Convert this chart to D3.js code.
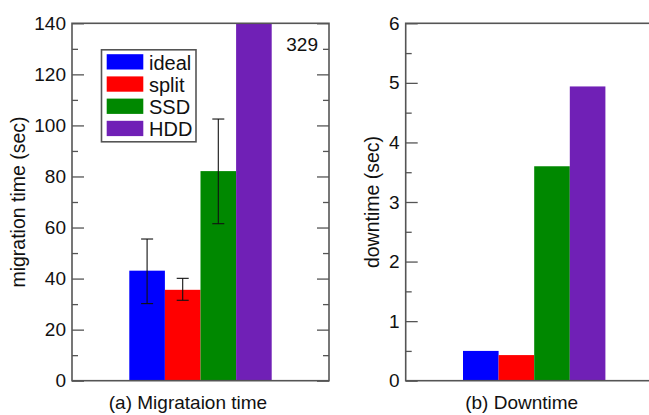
<!DOCTYPE html>
<html>
<head>
<meta charset="utf-8">
<script src="https://cdn.jsdelivr.net/npm/d3@7"></script>
<style>
  html, body { margin: 0; padding: 0; background: #fff; }
  svg { display: block; }
  text { font-family: "Liberation Sans", Arial, sans-serif; fill: #111; }
</style>
</head>
<body>
<svg id="chart" width="649" height="415"></svg>
<script>
// ---- data ----
const series = ["ideal", "split", "SSD", "HDD"];
const seriesColors = ["#0000ff", "#ff0000", "#008800", "#7020b6"];
const migrationTime = [43.1, 35.6, 82.1, 329];
const migrationErrLow = [30.2, 31.5, 61.5, null];
const migrationErrHigh = [55.5, 40.1, 102.5, null];
const downtime = [0.50, 0.43, 3.60, 4.94];
const migrationTicks = [0, 20, 40, 60, 80, 100, 120, 140];
const migrationMinorTicks = [10, 30, 50, 70, 90, 110, 130];
const downtimeTicks = [0, 1, 2, 3, 4, 5, 6];
const downtimeMinorTicks = [0.5, 1.5, 2.5, 3.5, 4.5, 5.5];
const panelTitles = ["(a) Migrataion time", "(b) Downtime"];
const yTitles = ["migration time (sec)", "downtime (sec)"];
const overflowLabel = "329";

// ---- layout ----
const svg = d3.select("#chart");
const plotTop = 23.3, plotBottom = 380.7, pw = 257;
const panels = [
  { left: 72, values: migrationTime, max: 140, ticks: migrationTicks, minor: migrationMinorTicks,
    lo: migrationErrLow, hi: migrationErrHigh, title: panelTitles[0], ytitle: yTitles[0], ytx: 24.5, rightAxis: true },
  { left: 405.7, values: downtime, max: 6, ticks: downtimeTicks, minor: downtimeMinorTicks,
    lo: null, hi: null, title: panelTitles[1], ytitle: yTitles[1], ytx: 379, rightAxis: false }
];

panels.forEach((p, pi) => {
  const g = svg.append("g");
  const y = d3.scaleLinear().domain([0, p.max]).range([plotBottom, plotTop]).clamp(true);
  const cx = p.left + pw / 2;
  const gw = 142.4;
  const x = d3.scaleBand().domain(series).range([cx - gw / 2, cx + gw / 2]).padding(0);

  // bars
  g.selectAll("rect.bar").data(series).enter().append("rect")
    .attr("x", d => x(d))
    .attr("width", x.bandwidth())
    .attr("y", (d, i) => y(p.values[i]))
    .attr("height", (d, i) => plotBottom - y(p.values[i]))
    .attr("fill", (d, i) => seriesColors[i]);

  // error bars
  if (p.lo) {
    series.forEach((s, i) => {
      if (p.lo[i] == null) return;
      const ex = x(s) + x.bandwidth() / 2;
      const eg = g.append("g").attr("stroke", "#111").attr("stroke-width", 1.1);
      eg.append("line").attr("x1", ex).attr("x2", ex).attr("y1", y(p.lo[i])).attr("y2", y(p.hi[i]));
      eg.append("line").attr("x1", ex - 6).attr("x2", ex + 6).attr("y1", y(p.lo[i])).attr("y2", y(p.lo[i]));
      eg.append("line").attr("x1", ex - 6).attr("x2", ex + 6).attr("y1", y(p.hi[i])).attr("y2", y(p.hi[i]));
    });
  }

  // axes (ticks inside)
  const ax = d3.axisLeft(y).tickValues(p.ticks).tickSize(-12).tickPadding(6).tickFormat(d3.format("d"));
  const ag = g.append("g").attr("transform", `translate(${p.left},0)`).call(ax);
  ag.select(".domain").remove();
  ag.selectAll(".tick line").attr("stroke", "#555").attr("stroke-width", 1.3);
  ag.selectAll(".tick text").style("font-size", "19px").attr("fill", "#111");
  const mg = g.append("g").attr("transform", `translate(${p.left},0)`)
    .call(d3.axisLeft(y).tickValues(p.minor).tickSize(-6).tickFormat(""));
  mg.select(".domain").remove();
  mg.selectAll(".tick line").attr("stroke", "#555").attr("stroke-width", 1.3);

  if (p.rightAxis) {
    const rg = g.append("g").attr("transform", `translate(${p.left + pw},0)`)
      .call(d3.axisRight(y).tickValues(p.ticks).tickSize(-12).tickFormat(""));
    rg.select(".domain").remove();
    rg.selectAll(".tick line").attr("stroke", "#555").attr("stroke-width", 1.3);
    const rmg = g.append("g").attr("transform", `translate(${p.left + pw},0)`)
      .call(d3.axisRight(y).tickValues(p.minor).tickSize(-6).tickFormat(""));
    rmg.select(".domain").remove();
    rmg.selectAll(".tick line").attr("stroke", "#555").attr("stroke-width", 1.3);
  }

  // frame
  g.append("rect").attr("x", p.left).attr("y", plotTop).attr("width", pw).attr("height", plotBottom - plotTop)
    .attr("fill", "none").attr("stroke", "#555").attr("stroke-width", 1.6);

  // titles
  g.append("text").attr("x", cx - 12.5).attr("y", 408.5).attr("text-anchor", "middle")
    .style("font-size", "19px").text(p.title);
  g.append("text").attr("transform", `translate(${p.ytx},202) rotate(-90)`).attr("text-anchor", "middle")
    .style("font-size", "19.5px").text(p.ytitle);

  if (pi === 0) {
    g.append("text").attr("x", 318).attr("y", 50.5).attr("text-anchor", "end")
      .style("font-size", "19px").text(overflowLabel);

    // legend
    const lg = g.append("g");
    lg.append("rect").attr("x", 101.5).attr("y", 49.8).attr("width", 94.5).attr("height", 92)
      .attr("fill", "#fff").attr("stroke", "#555").attr("stroke-width", 1.6);
    const ly = d3.scalePoint().domain(series).range([54.2, 120.8]);
    series.forEach((s, i) => {
      lg.append("rect").attr("x", 106.7).attr("y", ly(s)).attr("width", 36.6).attr("height", 15.3)
        .attr("fill", seriesColors[i]);
      lg.append("text").attr("x", 149).attr("y", ly(s) + 15.3).style("font-size", "20px").text(s);
    });
  }
});
</script>
</body>
</html>
